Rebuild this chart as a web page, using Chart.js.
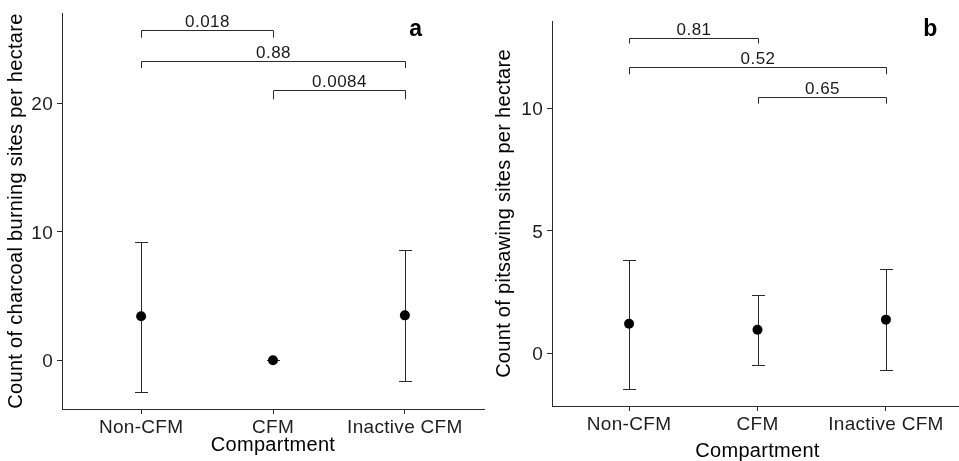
<!DOCTYPE html>
<html><head><meta charset="utf-8">
<script src="https://cdn.jsdelivr.net/npm/chart.js@4"></script>
<style>
html,body{margin:0;padding:0;background:#fff;overflow:hidden;width:959px;height:461px;}
#wrap{position:relative;width:959px;height:461px;overflow:hidden;background:#fff;}
canvas{position:absolute;top:0;}
</style></head><body>
<div id="wrap">
<canvas id="ca" width="490" height="461" style="left:0px;width:490px;height:461px"></canvas>
<canvas id="cb" width="490" height="461" style="left:486px;width:490px;height:461px"></canvas>
</div>
<script>
// ---- data ----
const categories = ['Non-CFM', 'CFM', 'Inactive CFM'];

// panel a: charcoal burning sites
const charcoalMean  = [3.43, 0.0, 3.5];
const charcoalLower = [-2.47, 0.0, -1.64];
const charcoalUpper = [9.22, 0.0, 8.62];
const charcoalTicks = [0, 10, 20];
const charcoalPairs = [[0, 1], [0, 2], [1, 2]];
const charcoalPValues = ['0.018', '0.88', '0.0084'];
const charcoalBracketY = [25.72, 23.33, 21.04];
const charcoalBracketTip = [25.15, 22.78, 20.34];

// panel b: pitsawing sites
const pitsawMean  = [1.2, 0.96, 1.37];
const pitsawLower = [-1.46, -0.5, -0.67];
const pitsawUpper = [3.82, 2.36, 3.45];
const pitsawTicks = [0, 5, 10];
const pitsawPairs = [[0, 1], [0, 2], [1, 2]];
const pitsawPValues = ['0.81', '0.52', '0.65'];
const pitsawBracketY = [12.89, 11.70, 10.47];
const pitsawBracketTip = [12.66, 11.40, 10.20];

const FONT = "'Liberation Sans', Arial, Helvetica, sans-serif";
Chart.defaults.font.family = FONT;

const spacingPlugin = {
  id: 'spacing',
  beforeLayout(chart) { chart.ctx.letterSpacing = '0.3px'; },
  beforeDraw(chart) { chart.ctx.letterSpacing = '0.3px'; }
};

const errPlugin = {
  id: 'errbars',
  beforeDatasetsDraw(chart, args, opts) {
    const { ctx, scales: { x, y } } = chart;
    ctx.save();
    ctx.strokeStyle = '#2a2a2a';
    ctx.lineWidth = 1;
    const cap = 6.5;
    opts.lower.forEach((lo, i) => {
      const hi = opts.upper[i];
      const px = Math.round(x.getPixelForValue(i)) + 0.5;
      const p1 = Math.round(y.getPixelForValue(lo)) + 0.5;
      const p2 = Math.round(y.getPixelForValue(hi)) + 0.5;
      ctx.beginPath();
      ctx.moveTo(px, p1); ctx.lineTo(px, p2);
      ctx.moveTo(px - cap, p1); ctx.lineTo(px + cap, p1);
      ctx.moveTo(px - cap, p2); ctx.lineTo(px + cap, p2);
      ctx.stroke();
    });
    ctx.restore();
  }
};

const bracketPlugin = {
  id: 'brackets',
  afterDatasetsDraw(chart, args, opts) {
    const { ctx, scales: { x, y } } = chart;
    ctx.save();
    ctx.letterSpacing = '0.5px';
    ctx.strokeStyle = '#2a2a2a';
    ctx.lineWidth = 1;
    ctx.fillStyle = '#1a1a1a';
    ctx.font = '17px ' + FONT;
    ctx.textAlign = 'center';
    ctx.textBaseline = 'alphabetic';
    opts.pairs.forEach(([a, b], k) => {
      const x1 = Math.round(x.getPixelForValue(a)) + 0.5;
      const x2 = Math.round(x.getPixelForValue(b)) + 0.5;
      const yl = Math.round(y.getPixelForValue(opts.y[k])) + 0.5;
      const yt = y.getPixelForValue(opts.tip[k]);
      ctx.beginPath();
      ctx.moveTo(x1, yt); ctx.lineTo(x1, yl); ctx.lineTo(x2, yl); ctx.lineTo(x2, yt);
      ctx.stroke();
      ctx.fillText(opts.labels[k], (x1 + x2) / 2, yl - 4);
    });
    ctx.restore();
  }
};

const tagPlugin = {
  id: 'tag',
  afterDraw(chart, args, opts) {
    const { ctx } = chart;
    ctx.save();
    ctx.letterSpacing = '0px';
    ctx.fillStyle = '#000';
    ctx.font = 'bold 23px ' + FONT;
    ctx.textAlign = 'center';
    ctx.textBaseline = 'alphabetic';
    ctx.fillText(opts.text, opts.x, opts.y);
    ctx.restore();
  }
};

function makePanel(id, cfg) {
  return new Chart(document.getElementById(id), {
    type: 'scatter',
    data: {
      datasets: [{
        data: cfg.mean.map((m, i) => ({ x: i, y: m })),
        pointRadius: 5,
        pointBackgroundColor: '#000',
        pointBorderColor: '#000',
        pointBorderWidth: 0
      }]
    },
    options: {
      responsive: false,
      animation: false,
      devicePixelRatio: 1,
      events: [],
      layout: { padding: cfg.padding },
      plugins: {
        legend: { display: false },
        tooltip: { enabled: false },
        errbars: { lower: cfg.lower, upper: cfg.upper },
        brackets: { pairs: cfg.pairs, labels: cfg.pvals, y: cfg.by, tip: cfg.btip },
        tag: cfg.tag
      },
      scales: {
        x: {
          type: 'linear', min: -0.6, max: 2.6,
          afterBuildTicks: s => { s.ticks = categories.map((c, i) => ({ value: i })); },
          afterFit: s => { s.height = cfg.xHeight; s.paddingLeft = 0; s.paddingRight = 0; },
          ticks: {
            callback: v => categories[v],
            font: { size: 19, lineHeight: 1 }, color: '#1e1e1e',
            padding: cfg.xTickPad, maxRotation: 0, minRotation: 0, autoSkip: false
          },
          grid: { drawOnChartArea: false, drawTicks: true, tickLength: 5, color: '#2a2a2a', lineWidth: 1 },
          border: { display: true, color: '#2a2a2a', width: 1 },
          title: {
            display: true, text: 'Compartment', color: '#000',
            font: { size: 20, lineHeight: 1 }, padding: { top: 0, bottom: cfg.xTitlePad }
          }
        },
        y: {
          type: 'linear', min: cfg.ymin, max: cfg.ymax,
          afterBuildTicks: s => { s.ticks = cfg.yTicks.map(v => ({ value: v })); },
          afterFit: s => { s.width = cfg.yWidth; s.paddingTop = 0; s.paddingBottom = 0; },
          ticks: { font: { size: 19, lineHeight: 1 }, color: '#1e1e1e', padding: 4, labelOffset: 1.5 },
          grid: { drawOnChartArea: false, drawTicks: true, tickLength: 5, color: '#2a2a2a', lineWidth: 1 },
          border: { display: true, color: '#2a2a2a', width: 1 },
          title: {
            display: true, text: cfg.yTitle, color: '#000',
            font: { size: 20, lineHeight: 1 }, padding: { top: cfg.yTitlePad, bottom: 0 }
          }
        }
      }
    },
    plugins: [spacingPlugin, errPlugin, bracketPlugin, tagPlugin]
  });
}

makePanel('ca', {
  mean: charcoalMean, lower: charcoalLower, upper: charcoalUpper,
  yTicks: charcoalTicks, ymin: -3.8, ymax: 27.07,
  pairs: charcoalPairs, pvals: charcoalPValues, by: charcoalBracketY, btip: charcoalBracketTip,
  yTitle: 'Count of charcoal burning sites per hectare',
  padding: { left: 0, right: 6, top: 13, bottom: 0 },
  xHeight: 52, yWidth: 62, xTickPad: 4.6, xTitlePad: 5.2, yTitlePad: 6.5,
  tag: { text: 'a', x: 415.7, y: 36 }
});

makePanel('cb', {
  mean: pitsawMean, lower: pitsawLower, upper: pitsawUpper,
  yTicks: pitsawTicks, ymin: -2.16, ymax: 13.58,
  pairs: pitsawPairs, pvals: pitsawPValues, by: pitsawBracketY, btip: pitsawBracketTip,
  yTitle: 'Count of pitsawing sites per hectare',
  padding: { left: 0, right: 13, top: 21, bottom: 0 },
  xHeight: 55, yWidth: 66, xTickPad: 4.5, xTitlePad: 0, yTitlePad: 8,
  tag: { text: 'b', x: 444.3, y: 36 }
});
</script>
</body></html>
